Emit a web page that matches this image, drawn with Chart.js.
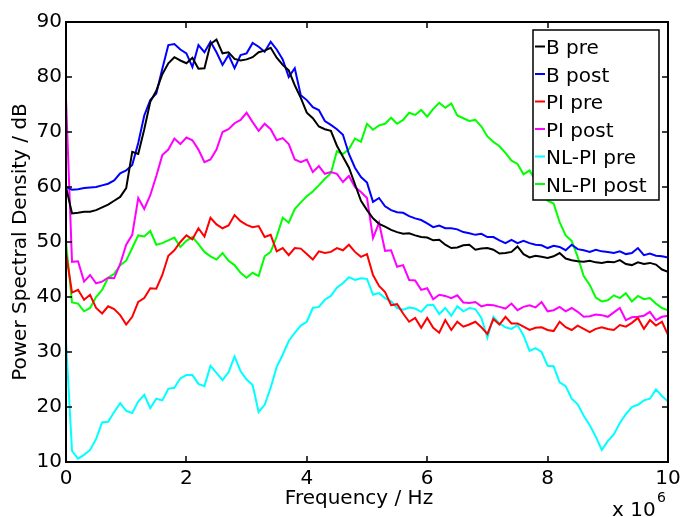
<!DOCTYPE html>
<html>
<head>
<meta charset="utf-8">
<script src="https://cdn.jsdelivr.net/npm/chart.js@4.4.1/dist/chart.umd.min.js"></script>
<style>
html, body { margin: 0; padding: 0; background: #fff; }
</style>
</head>
<body>
<canvas id="psdChart" width="694" height="517"></canvas>
<script>
// frecuencia en unidades de 10^6 Hz
const freq = [0, 0.1, 0.2, 0.3, 0.4, 0.5, 0.6, 0.7, 0.8, 0.9,
    1, 1.1, 1.2, 1.3, 1.4, 1.5, 1.6, 1.7, 1.8, 1.9,
    2, 2.1, 2.2, 2.3, 2.4, 2.5, 2.6, 2.7, 2.8, 2.9,
    3, 3.1, 3.2, 3.3, 3.4, 3.5, 3.6, 3.7, 3.8, 3.9,
    4, 4.1, 4.2, 4.3, 4.4, 4.5, 4.6, 4.7, 4.8, 4.9,
    5, 5.1, 5.2, 5.3, 5.4, 5.5, 5.6, 5.7, 5.8, 5.9,
    6, 6.1, 6.2, 6.3, 6.4, 6.5, 6.6, 6.7, 6.8, 6.9,
    7, 7.1, 7.2, 7.3, 7.4, 7.5, 7.6, 7.7, 7.8, 7.9,
    8, 8.1, 8.2, 8.3, 8.4, 8.5, 8.6, 8.7, 8.8, 8.9,
    9, 9.1, 9.2, 9.3, 9.4, 9.5, 9.6, 9.7, 9.8, 9.9,
    10];

const bPre = [60, 55.2, 55.3, 55.5, 55.5, 55.8, 56.3, 56.8, 57.5, 58.2,
    59.8, 66.4, 66, 70.5, 75.5, 77.5, 80.5, 82.5, 83.6, 83,
    82.5, 83.5, 81.5, 81.6, 86, 86.8, 84.3, 84.5, 83.3, 83,
    83.2, 83.6, 84.5, 84.8, 85.3, 83.5, 82.2, 81.2, 78.5, 76.2,
    73.5, 72.5, 71, 70.5, 70.2, 67.5, 65.5, 63.5, 60.5, 57.5,
    55.8, 54.3, 53.3, 52.8, 52.2, 51.8, 51.5, 51.6, 51.2, 50.9,
    50.8, 50.3, 50.4, 49.5, 48.9, 49.0, 49.4, 49.5, 48.6, 48.8,
    48.9, 48.6, 47.9, 48.0, 48.2, 49.2, 47.8, 47.2, 47.5, 47.3,
    47.1, 47.4, 48, 47, 46.7, 46.5, 46.4, 46.6, 46.3, 46.2,
    46.4, 46.3, 46.7, 46.0, 45.8, 46.3, 46.0, 46.2, 45.9, 45.0,
    44.6];

const bPost = [60, 59.5, 59.6, 59.8, 59.9, 60.0, 60.3, 60.6, 61.2, 62.5,
    63, 64, 68, 73, 75.8, 77, 81.5, 85.8, 86, 85,
    84.3, 81.8, 85.8, 84.5, 86.4, 84.5, 82.2, 84, 81.6, 84,
    84.3, 86.2, 85.5, 84.6, 86.4, 85, 83.2, 80, 81.6, 76.7,
    75.8, 74.5, 74, 72, 71.3, 70.5, 69.5, 66, 63.5, 61.8,
    60.8, 57.3, 58, 56.5, 55.8, 55.4, 55.3, 54.7, 54.3, 54,
    53.4, 52.7, 53.0, 52.5, 52.5, 52.3, 51.8, 51.6, 51.3, 51.5,
    50.9, 50.9, 50.3, 49.8, 50.4, 49.8, 50.2, 49.8, 49.5, 49.4,
    48.9, 49.3, 49.1, 48.5, 49.5, 48.7, 48.5, 48.2, 48.6, 48.3,
    48.2, 48.0, 48.3, 47.8, 48.0, 48.9, 47.6, 47.9, 47.5, 47.4,
    47.2];

const piPre = [48, 40.8, 41.3, 39.5, 40.4, 38, 37, 38.3, 37.8, 36.7,
    35, 36.4, 39.1, 39.8, 41.6, 41.5, 44, 47.5, 48.5, 50,
    51.2, 50.5, 52.5, 51, 54.4, 53.2, 52.5, 53, 54.9, 53.8,
    53.1, 52.7, 52.9, 50.9, 51.3, 48.3, 48.9, 47.6, 48.9, 48.8,
    47.8, 46.8, 48.3, 48.0, 48.2, 48.9, 48.5, 49.5, 48.2, 47.3,
    47.8, 44, 42, 40.9, 38.5, 38.7, 37, 35.5, 36.2, 34.4,
    36.2, 34.4, 33.5, 35.8, 34, 35.5, 34.6, 35, 35.5, 34.5,
    33.3, 36, 35, 36.4, 35.2, 35.2, 34.6, 34, 34.4, 34.5,
    34, 33.8, 35.5, 34.5, 34, 34.8, 34.2, 33.6, 34.2, 34.5,
    34.2, 34, 34.9, 34.6, 35.3, 36.2, 34.2, 35.8, 34.8, 35.5,
    33.1];

const piPost = [76, 46.4, 46.5, 42.8, 44, 42.5, 42.8, 43.5, 43.4, 46,
    49.5, 51.3, 58, 56, 58.5, 62, 65.8, 66.8, 68.8, 67.8,
    69, 68.5, 66.8, 64.5, 65, 66.8, 70, 70.5, 71.6, 72.2,
    73.5, 71.8, 70.2, 71.5, 70.5, 68.5, 68.9, 67.8, 65, 64.5,
    65, 62.7, 63.8, 62.4, 62.7, 62.4, 60.9, 62, 60, 59.1,
    58, 50.7, 53.5, 48.4, 48.5, 45.5, 45.8, 43.1, 43, 41.3,
    41.6, 39.6, 40.4, 40.2, 39.8, 40.3, 39, 38.9, 39.1, 38.3,
    38.6, 38.5, 38.2, 37.9, 38.8, 37.6, 38.2, 38.5, 38.1, 39.1,
    37.4, 37.6, 38.2, 37.4, 38, 37.3, 36.4, 36.5, 36.8, 36.7,
    36.4, 37.2, 38, 35.8, 36.3, 36.4, 36.6, 37.3, 35.8, 36.4,
    36.6];

const nlPre = [32, 12, 10.6, 11.3, 12.2, 14.2, 17.2, 17.3, 19.1, 20.7,
    19.3, 18.9, 21, 22.2, 19.8, 21.5, 21.2, 23.3, 23.5, 25.2,
    25.8, 25.8, 24.2, 23.8, 27.5, 26.2, 24.9, 26.3, 29.2, 26.5,
    25, 24, 19.1, 20.4, 23.5, 27.3, 29.5, 32, 33.5, 34.8,
    35.5, 38, 38.2, 39.5, 40.2, 41.7, 42.5, 43.6, 43.1, 43.4,
    43.3, 40.4, 40.7, 39.8, 39.2, 38, 37.7, 38.1, 37.9, 37.3,
    38.5, 38.6, 36.9, 38, 36.6, 38.3, 37.4, 38, 37.8, 36.2,
    32.6, 36.4, 35.2, 34.5, 34.2, 34.9, 33, 30.2, 30.7, 30,
    27.5, 27.4, 24.5, 23.8, 21.5, 20.5, 18.4, 16.7, 14.6, 12.2,
    13.8, 15, 17.1, 18.7, 20, 20.4, 21.2, 21.5, 23.2, 22.0,
    21];

const nlPost = [50, 39, 38.8, 37.4, 38, 40, 41.3, 43.5, 44.2, 45.8,
    46.6, 48.9, 51.2, 51, 52, 49.5, 49.8, 50.3, 50.8, 49.1,
    50.2, 50.9, 49.6, 48.2, 47.4, 46.8, 48, 46.6, 45.8, 44.4,
    43.5, 44.4, 43.8, 47.4, 48.2, 51, 54.4, 53.5, 56, 57.2,
    58.3, 59.2, 60.3, 61.5, 62.5, 66.5, 66, 66.9, 68.8, 68.2,
    71.5, 70.4, 71.2, 71.5, 72.6, 71.5, 72.2, 73.5, 73.1, 74,
    72.8, 74.2, 75.3, 74.4, 75.2, 73, 72.5, 72, 72.2, 71,
    69.2, 68.2, 67.4, 66.2, 64.8, 64.2, 62.3, 63, 61.2, 59.8,
    57.5, 57, 53.6, 51.2, 50.2, 47.3, 43.8, 42.2, 39.9, 39.2,
    39.4, 40.3, 39.8, 40.7, 39.2, 40.2, 39.6, 39.8, 38.8, 38,
    37.6];

const seriesNames = ['B pre', 'B post', 'PI pre', 'PI post', 'NL-PI pre', 'NL-PI post'];
const seriesColors = ['#000000', '#0000ff', '#ff0000', '#ff00ff', '#00ffff', '#00ff00'];
const seriesValues = [bPre, bPost, piPre, piPost, nlPre, nlPost];

const xTicks = [0, 2, 4, 6, 8, 10];
const yTicks = [10, 20, 30, 40, 50, 60, 70, 80, 90];

const FONT = 'DejaVu Sans';

// ejes estilo matlab: caja, marcas hacia dentro, titulos y leyenda
const matlabAxes = {
    id: 'matlabAxes',
    afterDatasetsDraw(chart) {
        const { ctx, chartArea: a, scales: { x, y } } = chart;
        ctx.save();
        ctx.strokeStyle = '#000';
        ctx.lineWidth = 1.5;
        ctx.beginPath();
        xTicks.forEach(v => {
            const px = Math.round(x.getPixelForValue(v));
            ctx.moveTo(px, a.bottom); ctx.lineTo(px, a.bottom - 6);
            ctx.moveTo(px, a.top); ctx.lineTo(px, a.top + 6);
        });
        yTicks.forEach(v => {
            const py = Math.round(y.getPixelForValue(v));
            ctx.moveTo(a.left, py); ctx.lineTo(a.left + 6, py);
            ctx.moveTo(a.right, py); ctx.lineTo(a.right - 6, py);
        });
        ctx.stroke();
        ctx.lineWidth = 2;
        ctx.strokeRect(a.left, a.top, a.right - a.left, a.bottom - a.top);

        // leyenda
        const lx = 533, ly = 30, lw = 126, lh = 170;
        ctx.fillStyle = '#fff';
        ctx.fillRect(lx, ly, lw, lh);
        ctx.lineWidth = 1.5;
        ctx.strokeStyle = '#000';
        ctx.strokeRect(lx, ly, lw, lh);
        ctx.font = '20px "' + FONT + '"';
        ctx.textAlign = 'left';
        ctx.textBaseline = 'alphabetic';
        seriesNames.forEach((name, i) => {
            const cy = 46.5 + i * 27.5;
            ctx.strokeStyle = seriesColors[i];
            ctx.lineWidth = 2;
            ctx.beginPath();
            ctx.moveTo(535, cy); ctx.lineTo(545, cy);
            ctx.stroke();
            ctx.fillStyle = '#000';
            ctx.fillText(name, 546, cy + 7.5);
        });

        // titulo eje x y multiplicador
        ctx.fillStyle = '#000';
        ctx.textAlign = 'center';
        ctx.fillText('Frequency / Hz', 359, 504);
        ctx.textAlign = 'left';
        ctx.fillText('x 10', 612, 516);
        ctx.font = '14px "' + FONT + '"';
        ctx.fillText('6', 657, 502);
        ctx.restore();
    }
};

const datasets = seriesNames.map((name, i) => ({
    label: name,
    data: freq.map((f, k) => ({ x: f, y: seriesValues[i][k] })),
    borderColor: seriesColors[i],
    backgroundColor: seriesColors[i],
    borderWidth: 2,
    pointRadius: 0,
    tension: 0,
    fill: false
}));

const psdChart = new Chart(document.getElementById('psdChart'), {
    type: 'line',
    data: { datasets: datasets },
    options: {
        responsive: false,
        animation: false,
        devicePixelRatio: 1,
        layout: { padding: { top: 22, right: 26, bottom: 0, left: 0 } },
        plugins: {
            legend: { display: false },
            tooltip: { enabled: false }
        },
        scales: {
            x: {
                type: 'linear',
                min: 0,
                max: 10,
                afterFit: (scale) => { scale.height = 55; },
                afterBuildTicks: (scale) => { scale.ticks = xTicks.map(v => ({ value: v })); },
                grid: { display: false, drawTicks: false },
                border: { display: false },
                ticks: {
                    padding: 5,
                    color: '#000',
                    font: { family: FONT, size: 20 },
                    maxRotation: 0
                }
            },
            y: {
                type: 'linear',
                min: 10,
                max: 90,
                afterFit: (scale) => { scale.width = 66; },
                afterBuildTicks: (scale) => { scale.ticks = yTicks.map(v => ({ value: v })); },
                grid: { display: false, drawTicks: false },
                border: { display: false },
                ticks: {
                    padding: 4,
                    color: '#000',
                    font: { family: FONT, size: 20 }
                },
                title: {
                    display: true,
                    text: 'Power Spectral Density / dB',
                    color: '#000',
                    font: { family: FONT, size: 20 },
                    padding: { top: 9, bottom: 0 }
                }
            }
        }
    },
    plugins: [matlabAxes]
});
</script>
</body>
</html>
